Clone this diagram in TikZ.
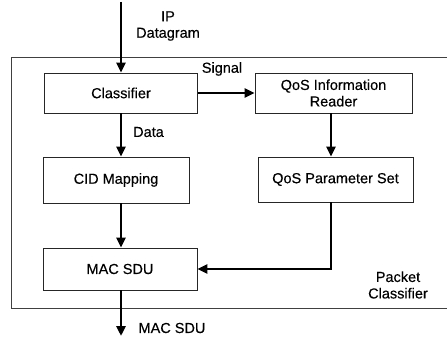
\documentclass[tikz,border=0pt]{standalone}
\usepackage{fontspec}
\setmainfont{Liberation Sans}
\newfontfamily\diagfont{Liberation Sans}[FakeBold=0.35]

\usetikzlibrary{arrows.meta}

\begin{document}
\begin{tikzpicture}[x=1pt,y=-1pt,
  every node/.style={font=\diagfont\fontsize{14.5}{16.5}\selectfont},
  blk/.style={draw=black!85, line width=0.9pt, inner sep=0pt, align=center},
  lbl/.style={inner sep=0pt, align=center},
  flow/.style={line width=2.6pt, -{Triangle[length=10pt,width=9pt]}},
  frame/.style={draw=black!75, line width=0.8pt}]
\useasboundingbox (0,0) rectangle (447,339);

% packet classifier enclosure (open on the right)
\draw[frame] (447,57) -- (11,57) -- (11,308) -- (447,308);

% processing blocks
\node[blk, minimum width=153, minimum height=40] (cls)   at (121,93)    {Classifier};
\node[blk, minimum width=157, minimum height=40] (qinfo) at (333.5,93)  {QoS Information\\Reader};
\node[blk, minimum width=146, minimum height=46] (cid)   at (116,180)   {CID Mapping};
\node[blk, minimum width=155, minimum height=45] (qpar)  at (335.5,179.5) {QoS Parameter Set};
\node[blk, minimum width=154, minimum height=42] (mac)   at (120,269)   {MAC SDU};

% connector columns and free ends
\coordinate (cx)  at (121,0);
\coordinate (qx)  at (331,0);
\coordinate (in)  at (121,2);
\coordinate (out) at (121,336);

% flows
\draw[flow] (in) -- (cls.north);
\draw[flow] (cls.east) -- (qinfo.west);
\draw[flow] (cls.south -| cx) -- (cid.north -| cx);
\draw[flow] (qinfo.south -| qx) -- (qpar.north -| qx);
\draw[flow] (cid.south -| cx) -- (mac.north -| cx);
\draw[flow] (qpar.south -| qx) |- (mac.east);
\draw[flow] (mac.south -| cx) -- (out);

% labels
\node[lbl] (iplbl)  at (168,26)  {IP\\Datagram};
\node[lbl] (sig)    at (222,69)  {Signal};
\node[lbl] (dat)    at (148.5,132) {Data};
\node[lbl] (outlbl) at (172,328) {MAC SDU};
\node[lbl] (pc)     at (398,285) {Packet\\Classifier};
\end{tikzpicture}
\end{document}
